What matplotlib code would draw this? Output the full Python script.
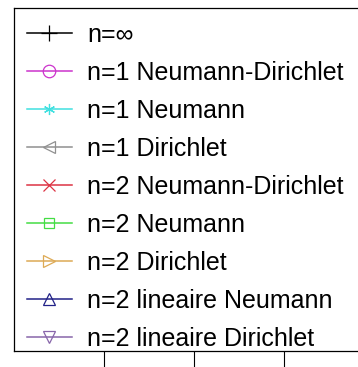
import matplotlib
matplotlib.use("Agg")
import matplotlib.pyplot as plt

labels = ["n=∞", "n=1 Neumann-Dirichlet", "n=1 Neumann", "n=1 Dirichlet",
          "n=2 Neumann-Dirichlet", "n=2 Neumann", "n=2 Dirichlet",
          "n=2 lineaire Neumann", "n=2 lineaire Dirichlet"]
colors = ["#000000", "#CC33CC", "#40E0E0", "#909090", "#DD3344",
          "#44DD44", "#DDAA55", "#222288", "#8866AA"]
markers = ["+", "o", (6, 2, 0), "<", "x", "s", ">", "^", "v"]
msizes = [11, 9, 8, 8, 8, 7, 8, 8, 8]

W, H = 358, 367
AH = 351 - 8
fig = plt.figure(figsize=(W / 100, H / 100), dpi=100)
ax = fig.add_axes([14 / W, 16 / H, 360 / W, AH / H])
for lab, c, m, s in zip(labels, colors, markers, msizes):
    ax.plot([], [], color=c, marker=m, markersize=s, markerfacecolor="none",
            markeredgecolor=c, linewidth=1.1, markeredgewidth=0.9, label=lab)
ax.set_xlim(-1, 3)
ax.set_ylim(0, 1)
ax.set_xticks([0, 1, 2])
ax.set_xticklabels([])
ax.set_yticks([])
ax.tick_params(axis="x", direction="out", length=12, width=0.8)
for sp in ax.spines.values():
    sp.set_linewidth(0.9)
    sp.set_zorder(10)
leg = ax.legend(loc="upper left", bbox_to_anchor=(0, 0, 1, 1 - 2 / AH),
                mode="expand", borderaxespad=0, fancybox=False,
                edgecolor="none", framealpha=1,
                prop={"family": "Liberation Sans", "size": 18},
                handlelength=1.8, handletextpad=0.62, labelspacing=0.56,
                borderpad=0.5)
leg.set_zorder(1)
ax.xaxis.set_zorder(10)
fig.savefig("out.png", dpi=100)
